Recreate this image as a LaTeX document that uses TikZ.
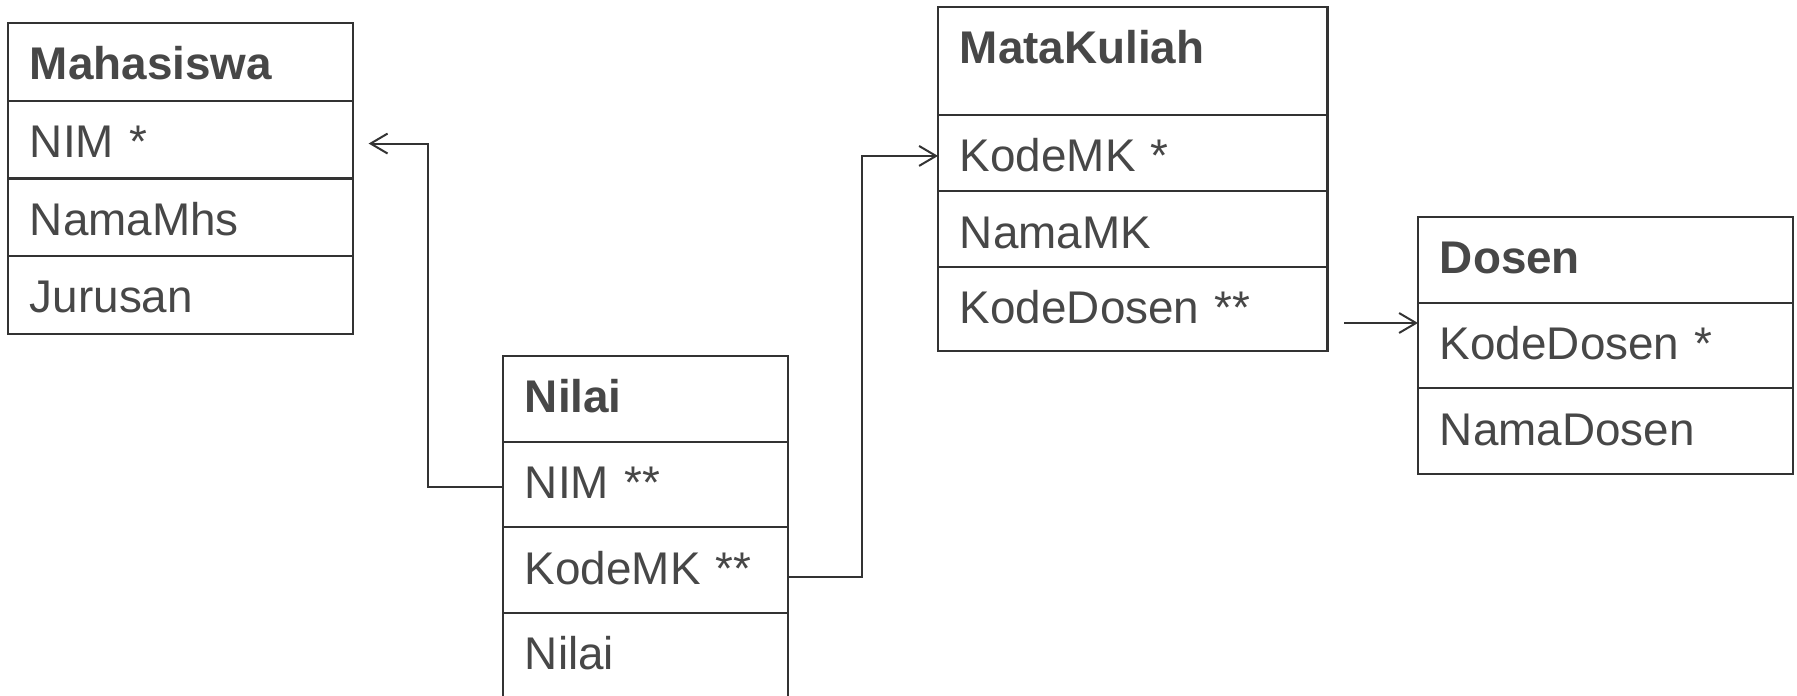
\documentclass[tikz,border=0pt]{standalone}
\usepackage{fontspec}
\setmainfont{Liberation Sans}
\usepackage{tikz}
\usetikzlibrary{arrows.meta,positioning}
\definecolor{textgray}{HTML}{474747}
\definecolor{linegray}{HTML}{333333}

\tikzset{
  row/.style={draw=linegray, line width=1.1pt, anchor=north west, outer sep=0pt,
    inner xsep=11pt, inner ysep=0pt, text height=28.5pt, align=left,
    text=textgray, font=\fontsize{23}{27}\selectfont},
  head/.style={row, font=\fontsize{23}{27}\selectfont\bfseries},
  fk/.style={draw=linegray, line width=1pt, -{Straight Barb[length=8.5pt,width=10pt]}}
}

\begin{document}
\begin{tikzpicture}[x=0.5bp,y=-0.5bp]
      \useasboundingbox (0,0) rectangle (1797,696);
      % Mahasiswa
      \node (mhs-0) at (8,23) [head, text width=151pt, text depth=10.5pt] {Mahasiswa};
      \foreach \txt [count=\i, remember=\i as \j (initially 0)] in {NIM *, NamaMhs, Jurusan}
               \node (mhs-\i) at (mhs-\j.south west) [row, text width=151pt, text depth=10.5pt] {\txt};
      % Nilai
      \node (nilai-0) at (503,356) [head, text width=121pt, text depth=14.5pt] {Nilai};
      \foreach \txt [count=\i, remember=\i as \j (initially 0)] in {NIM **, KodeMK **, Nilai}
               \node (nilai-\i) at (nilai-\j.south west) [row, text width=121pt, text depth=14.5pt] {\txt};
      % MataKuliah
      \node (mk-0) at (938,7) [head, text width=173.5pt, text depth=25.5pt] {MataKuliah};
      \foreach \txt/\rowdepth [count=\i, remember=\i as \j (initially 0)] in {KodeMK */10pt, NamaMK/9.5pt, KodeDosen **/13.5pt}
               \node (mk-\i) at (mk-\j.south west) [row, text width=173.5pt, text depth=\rowdepth] {\txt};
      % Dosen
      \node (dosen-0) at (1418,217) [head, text width=166pt, text depth=14.5pt] {Dosen};
      \foreach \txt [count=\i, remember=\i as \j (initially 0)] in {KodeDosen *, NamaDosen}
               \node (dosen-\i) at (dosen-\j.south west) [row, text width=166pt, text depth=14.5pt] {\txt};
      % relasi
      \draw[fk] ([yshift=-1pt]nilai-1.west) -- ++(-75,0) |- ([xshift=8pt,yshift=-2pt]mhs-1.east);
      \draw[fk] ([yshift=-3.5pt]nilai-2.east) -- ++(74,0) |- ([yshift=-1.5pt]mk-1.west);
      \coordinate (fk-dosen) at (1344,323);
      \draw[fk] (fk-dosen) -- (fk-dosen -| dosen-1.west);
    \end{tikzpicture}
\end{document}
